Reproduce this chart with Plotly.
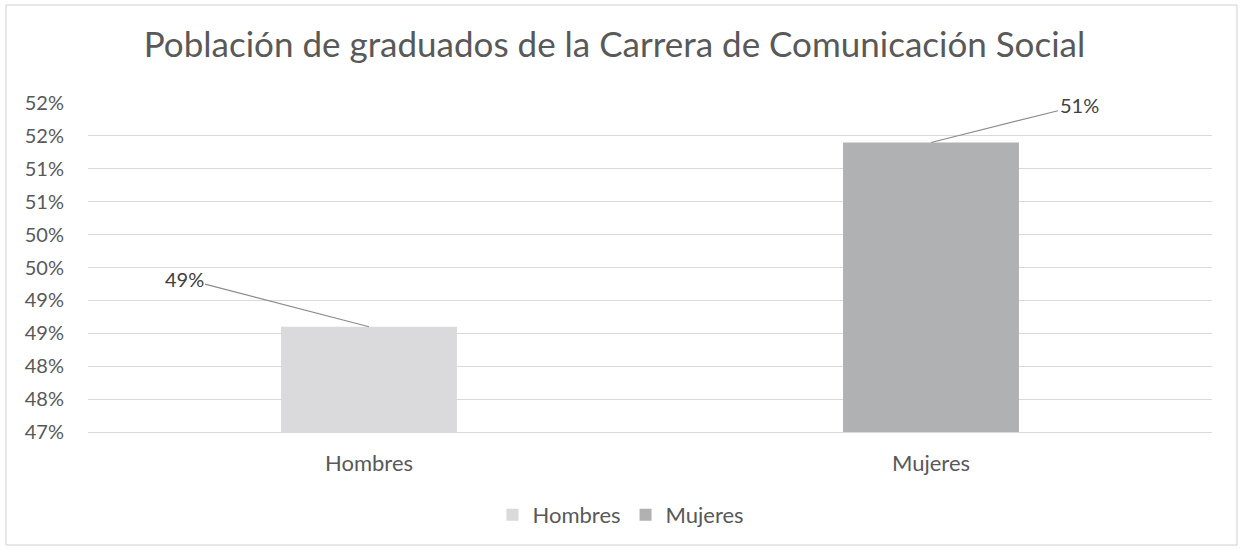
import plotly.graph_objects as go

# ---- data ----
categories = ["Hombres", "Mujeres"]
values = [0.486, 0.514]
colors = ["#dadadc", "#b0b1b3"]
title_text = "Población de graduados de la Carrera de Comunicación Social"
y_tick_vals = [0.47, 0.475, 0.48, 0.485, 0.49, 0.495, 0.50, 0.505, 0.51, 0.515, 0.52]
y_tick_text = ["47%", "48%", "48%", "49%", "49%", "50%", "50%", "51%", "51%", "52%", "52%"]

W, H = 1241, 550
L, R, T, B = 88, 29, 103, 118
PW, PH = W - L - R, H - T - B

FONT = "Lato"
TXT = "#595959"

fig = go.Figure()
for cat, val, col in zip(categories, values, colors):
    fig.add_trace(go.Bar(
        x=[cat], y=[val], name=cat, width=0.313,
        marker=dict(color=col, line=dict(width=0)),
        hoverinfo="skip",
    ))

# data labels with leader lines
label_offsets = [(-185, -48), (148, -37)]
for cat, val, (ax, ay) in zip(categories, values, label_offsets):
    fig.add_annotation(
        x=cat, y=val, xref="x", yref="y",
        text=f"{val:.0%}", showarrow=True, arrowhead=0, arrowwidth=1.2,
        arrowcolor="#8c8c8c", ax=ax, ay=ay,
        font=dict(family=FONT, size=20, color="#404040"),
    )

# outer chart border
fig.add_shape(type="rect", xref="paper", yref="paper",
              x0=(6 - L) / PW, x1=(1237 - L) / PW,
              y0=-(545 - (H - B)) / PH, y1=1 + (T - 5) / PH,
              line=dict(color="#d0d0d0", width=1), layer="below")

fig.update_layout(
    width=W, height=H,
    margin=dict(l=L, r=R, t=T, b=B, autoexpand=False),
    paper_bgcolor="white", plot_bgcolor="white",
    barmode="overlay",
    title=dict(text=title_text, x=614.5 / W, xanchor="center",
               y=1 - 45 / H, yanchor="middle",
               font=dict(family=FONT, size=35, color=TXT)),
    font=dict(family=FONT, color=TXT),
    showlegend=True,
    legend=dict(orientation="h", x=(621 - L) / PW, xanchor="center",
                y=-(515 - (H - B)) / PH, yanchor="middle",
                font=dict(family=FONT, size=22, color=TXT),
                itemwidth=30, traceorder="normal"),
    xaxis=dict(showgrid=False, showline=True, linecolor="#d9d9d9", linewidth=1,
               ticks="", tickfont=dict(family=FONT, size=22, color=TXT),
               ticklabelstandoff=12),
    yaxis=dict(range=[0.47, 0.52], tickvals=y_tick_vals, ticktext=y_tick_text,
               showgrid=True, gridcolor="#d9d9d9", gridwidth=1, zeroline=False,
               showline=False, ticks="", tickfont=dict(family=FONT, size=20, color=TXT),
               ticklabelstandoff=23),
)

fig.write_html("out.html", config={"displayModeBar": False},
               post_script="document.body.style.margin='0';document.body.style.overflow='hidden';")
